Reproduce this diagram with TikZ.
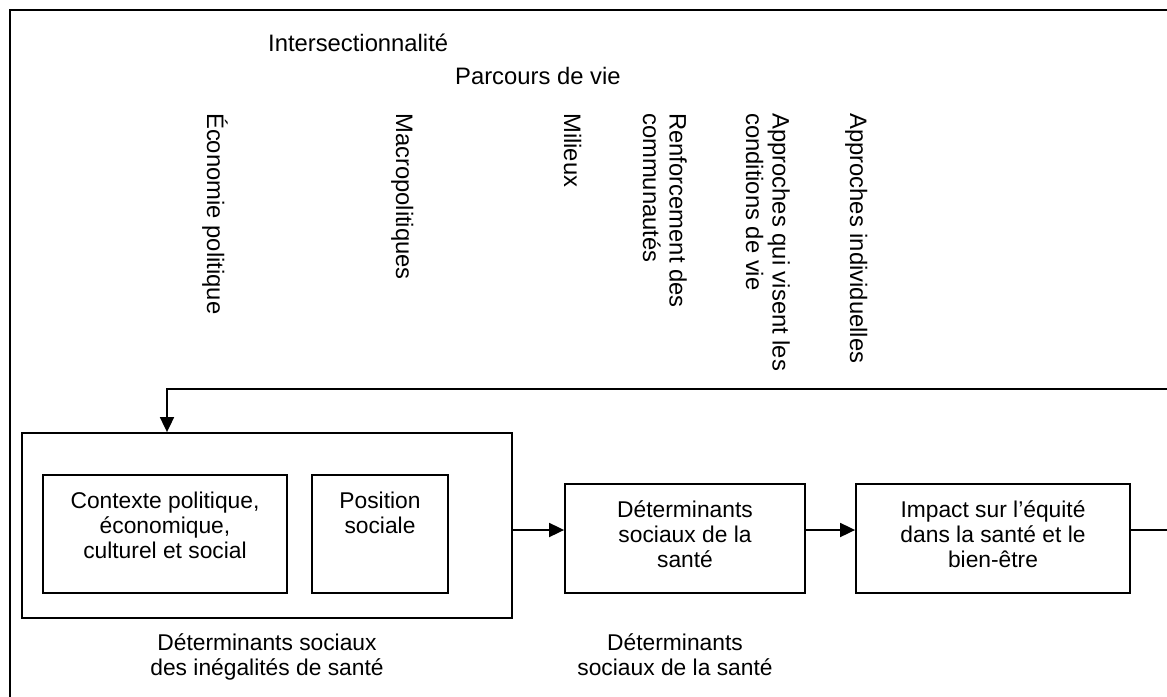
\documentclass[tikz,border=0pt]{standalone}
\usepackage{fontspec}
\setmainfont{Liberation Sans}
\usepackage{tikz}
\usetikzlibrary{calc,arrows.meta}

\tikzset{
  box/.style={draw, line width=1.8pt, inner sep=0pt},
  txt/.style={inner sep=0pt, align=center, font=\fontsize{22.8}{25}\selectfont},
  toptxt/.style={inner sep=0pt, anchor=base west, font=\fontsize{23.8}{26}\selectfont},
  vtxt/.style={inner sep=0pt, align=left, rotate=-90, anchor=base west, font=\fontsize{23.8}{26.5}\selectfont},
  arr/.style={line width=1.8pt, -{Triangle[length=15pt,width=14pt]}}
}

\begin{document}
\begin{tikzpicture}[x=1pt,y=-1pt]
\useasboundingbox (0,0) rectangle (1167,696);
\clip (0,0) rectangle (1167,696);
%% frame
\draw[line width=1.8pt] (10,10) rectangle (1200,720);
%% top labels
\node[toptxt] (inter) at (268,51) {Intersectionnalité};
\node[toptxt] (parc) at (455,84) {Parcours de vie};
%% vertical labels (base = last line)
\node[vtxt] (eco) at (207,113) {Économie politique};
\node[vtxt] (macro) at (396,113) {Macropolitiques};
\node[vtxt] (mil) at (564,113) {Milieux};
\node[vtxt] (renf) at (643,113) {Renforcement des\\communautés};
\node[vtxt] (cond) at (746,113) {Approches qui visent les\\conditions de vie};
\node[vtxt] (indiv) at (850,113) {Approches individuelles};
%% boxes
\node[box, minimum width=490, minimum height=185] (outer) at (267,525.5) {};
\node[box, minimum width=244, minimum height=118] (ctx) at (165,534) {};
\node[box, minimum width=136, minimum height=118] (pos) at (380,534) {};
\node[box, minimum width=240, minimum height=109] (det) at (685,538.5) {};
\node[box, minimum width=274, minimum height=109] (imp) at (993,538.5) {};
%% box texts
\node[txt, anchor=base] (ctxt) at ([yshift=-84pt]ctx.north) {Contexte politique,\\économique,\\culturel et social};
\node[txt, anchor=base] (post) at ([yshift=-59pt]pos.north) {Position\\sociale};
\node[txt, anchor=base] (dett) at ([yshift=-84pt]det.north) {Déterminants\\sociaux de la\\santé};
\node[txt, anchor=base] (impt) at ([yshift=-84pt]imp.north) {Impact sur l’équité\\dans la santé et le\\bien-être};
%% labels below
\node[txt, anchor=base] (dsi) at (267,675) {Déterminants sociaux\\des inégalités de santé};
\node[txt, anchor=base] (dss) at (675,675) {Déterminants\\sociaux de la santé};
%% connectors
\coordinate (lvl) at (0,530);
\coordinate (fbR) at (1185,389);
\coordinate (fbL) at (167,389);
\draw[arr] (outer.east |- lvl) -- (det.west |- lvl);
\draw[arr] (det.east |- lvl) -- (imp.west |- lvl);
\draw[arr] (imp.east |- lvl) -- (fbR |- lvl) -- (fbR) -- (fbL) -- (fbL |- outer.north);
\end{tikzpicture}
\end{document}
